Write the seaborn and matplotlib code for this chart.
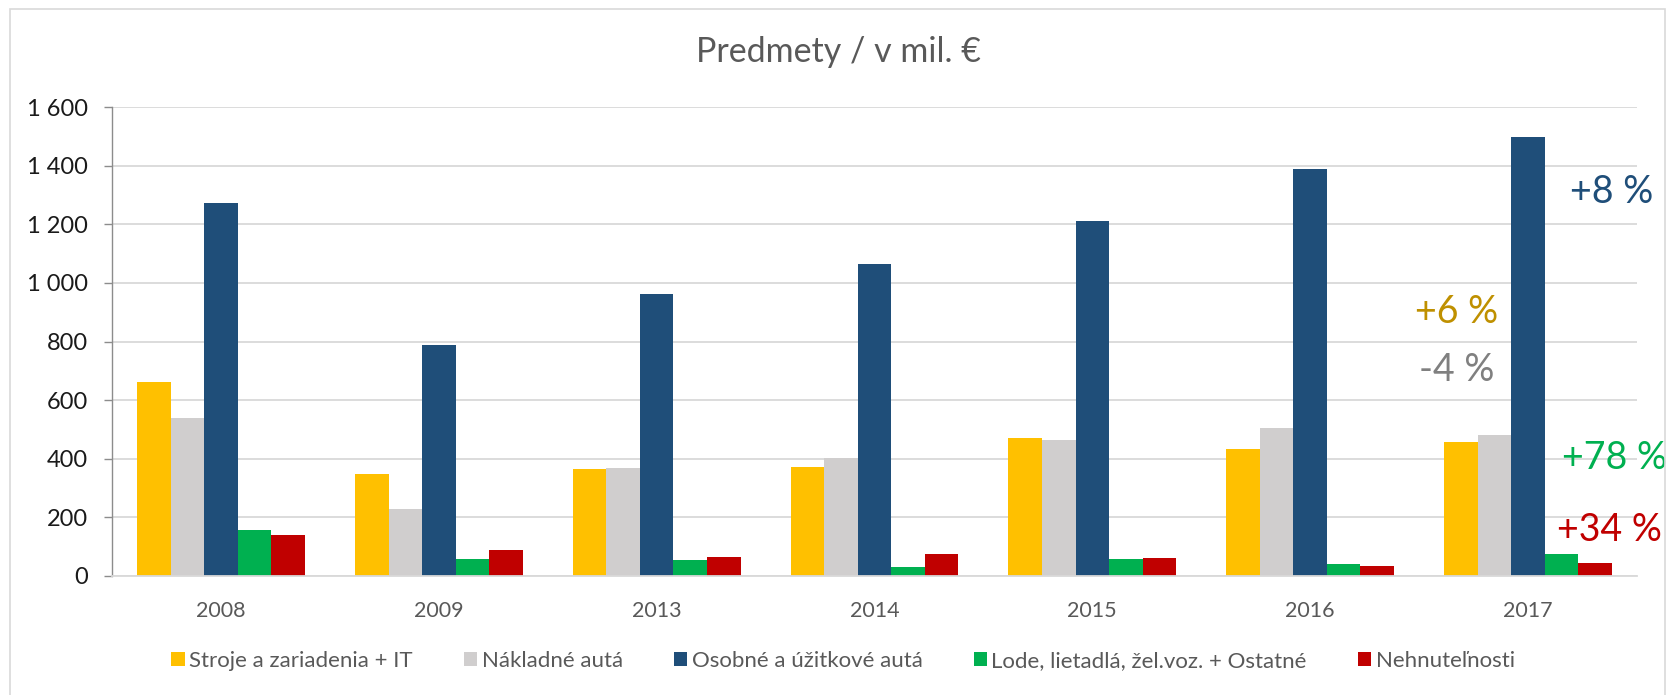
import numpy as np
import pandas as pd
import seaborn as sns
import matplotlib
import matplotlib.pyplot as plt
from matplotlib.patches import Rectangle
from matplotlib.ticker import FuncFormatter

matplotlib.use('Agg')

# Data (in mil. EUR)
years = ['2008', '2009', '2013', '2014', '2015', '2016', '2017']
categories = ['Stroje a zariadenia + IT', 'Nákladné autá',
              'Osobné a úžitkové autá', 'Lode, lietadlá, žel.voz. + Ostatné',
              'Nehnuteľnosti']
stroje = [660, 349, 366, 373, 471, 432, 458]
nakladne = [537, 227, 367, 403, 462, 503, 482]
osobne = [1273, 788, 963, 1065, 1210, 1390, 1500]
lode = [156, 57, 52, 31, 56, 41, 73]
nehnutelnosti = [138, 89, 63, 74, 59, 33, 44]

colors = ['#FFC000', '#D0CECE', '#1F4E79', '#00B050', '#C00000']

# Year-on-year changes shown next to the last group
change_labels = ['+8 %', '+6 %', '-4 %', '+78 %', '+34 %']
change_values = [1312, 902, 703, 402, 156]
change_offsets = [0.383, -0.328, -0.328, 0.40, 0.377]
change_colors = ['#1F4E79', '#BF9000', '#808080', '#00B050', '#C00000']

W, H = 1669, 695


def main():
    sns.set_style('white')
    plt.rcParams['font.family'] = ['Lato', 'DejaVu Sans']

    df = pd.DataFrame({
        'rok': np.tile(years, len(categories)),
        'kategoria': np.repeat(categories, len(years)),
        'hodnota': stroje + nakladne + osobne + lode + nehnutelnosti,
    })

    figure = plt.figure(figsize=(W / 100, H / 100), dpi=100)
    axes = figure.add_axes([112.3 / W, 1 - 575.7 / H,
                            (1636.7 - 112.3) / W, (575.7 - 107.3) / H])

    sns.barplot(data=df, x='rok', y='hodnota', hue='kategoria',
                hue_order=categories, palette=colors, saturation=1,
                width=0.77, linewidth=0, ax=axes, legend=True)

    # Axes look like the Excel original
    axes.set_ylim(0, 1600)
    axes.set_xlim(-0.5, len(years) - 0.5)
    axes.set_yticks(np.arange(0, 1601, 200))
    axes.yaxis.set_major_formatter(
        FuncFormatter(lambda v, p: f'{int(v):,}'.replace(',', ' ')))
    axes.set_xlabel('')
    axes.set_ylabel('')
    axes.grid(axis='y', color='#D9D9D9', lw=1.3, zorder=0)
    axes.set_axisbelow(True)
    for name in ['top', 'right']:
        axes.spines[name].set_visible(False)
    axes.spines['left'].set_color('#8C8C8C')
    axes.spines['left'].set_linewidth(1.0)
    axes.spines['bottom'].set_color('#D9D9D9')
    axes.spines['bottom'].set_linewidth(1.3)
    axes.tick_params(axis='y', left=True, length=5.8, width=1.0,
                     color='#8C8C8C', pad=12, labelsize=17,
                     labelcolor='#1A1A1A')
    axes.tick_params(axis='x', bottom=False, pad=15, labelsize=15.5,
                     labelcolor='#595959')

    # Percent changes on the right side
    last = len(years) - 1
    for text, value, offset, color in zip(change_labels, change_values,
                                          change_offsets, change_colors):
        axes.text(last + offset, value, text, color=color, fontsize=27,
                  ha='center', va='center', clip_on=False)

    # Legend below the chart
    handles, labels = axes.get_legend_handles_labels()
    axes.get_legend().remove()
    figure.legend(handles, labels, loc='center', ncol=5, frameon=False,
                  bbox_to_anchor=(843 / W, 1 - 661 / H), fontsize=16,
                  labelcolor='#595959', handlelength=0.6,
                  handleheight=0.63, handletextpad=0.2, columnspacing=2.3)

    figure.text(838 / W, 1 - 52 / H, 'Predmety / v mil. €', fontsize=24.5,
                color='#595959', ha='center', va='center')

    # Chart area border
    figure.add_artist(Rectangle((10 / W, -0.05), (1665 - 10) / W,
                                1.05 - 9 / H, transform=figure.transFigure,
                                fill=False, edgecolor='#D9D9D9', lw=1.2))

    figure.savefig('out.png', dpi=100, facecolor='white')


if __name__ == '__main__':
    main()
